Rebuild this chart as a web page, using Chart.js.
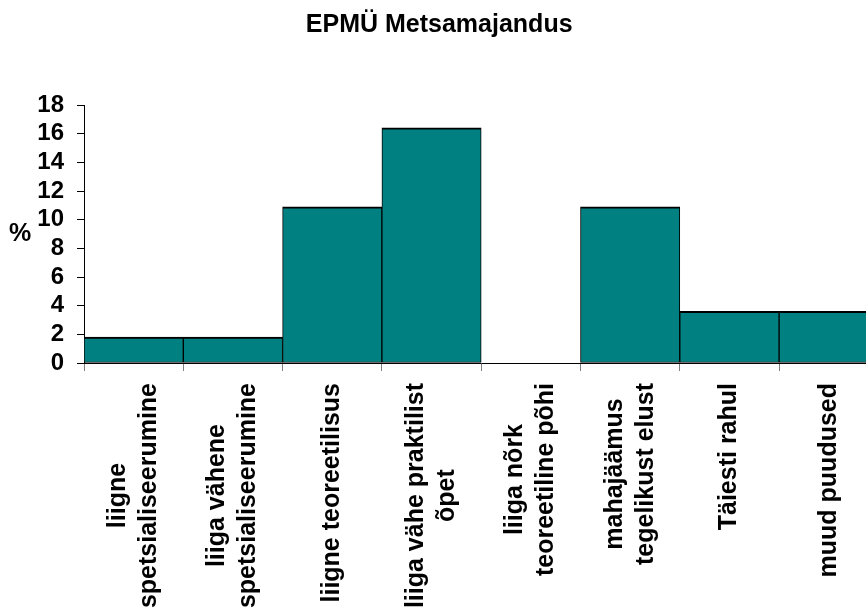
<!DOCTYPE html>
<html>
<head>
<meta charset="utf-8">
<script src="https://cdn.jsdelivr.net/npm/chart.js@4"></script>
<style>
  html, body { margin: 0; padding: 0; background: #fff; overflow: hidden; }
</style>
</head>
<body>
<canvas id="chart" width="880" height="609"></canvas>
<script>
const categories = [
    ['liigne', 'spetsialiseerumine'],
    ['liiga vähene', 'spetsialiseerumine'],
    ['liigne teoreetilisus'],
    ['liiga vähe praktilist', 'õpet'],
    ['liiga nõrk', 'teoreetiline põhi'],
    ['mahajäämus', 'tegelikust elust'],
    ['Täiesti rahul'],
    ['muud puudused']
];
const percentages = [1.8, 1.8, 10.9, 16.4, 0, 10.9, 3.6, 3.6];
const yMin = 0;
const yMax = 18;
const yStep = 2;

const FONT = 'Arial, "Liberation Sans", sans-serif';

// category labels are drawn by hand so the lines can be centred on each other
const labelPlugin = {
    id: 'labels',
    afterDraw(chart) {
        const ctx = chart.ctx;
        const x = chart.scales.x;
        const area = chart.chartArea;
        ctx.save();
        ctx.fillStyle = '#000';
        ctx.font = 'bold 25px ' + FONT;
        ctx.textAlign = 'center';
        ctx.textBaseline = 'middle';

        // y axis title, not rotated
        ctx.fillText('%', 20, (area.top + area.bottom) / 2);

        const lineGap = 31;
        const top = area.bottom + 20;
        categories.forEach(function(lines, i) {
            const cx = x.getPixelForValue(i);
            const w = Math.max.apply(null, lines.map(l => ctx.measureText(l).width));
            lines.forEach(function(line, j) {
                const lx = cx + (j - (lines.length - 1) / 2) * lineGap;
                ctx.save();
                ctx.translate(lx, top + w / 2);
                ctx.rotate(-Math.PI / 2);
                ctx.fillText(line, 0, 0);
                ctx.restore();
            });
        });
        ctx.restore();
    }
};

new Chart(document.getElementById('chart').getContext('2d'), {
    type: 'bar',
    data: {
        labels: categories,
        datasets: [{
            data: percentages,
            backgroundColor: '#008080',
            borderColor: '#000',
            borderWidth: { top: 2, left: 1, right: 1, bottom: 1 },
            borderSkipped: false,
            categoryPercentage: 1,
            barPercentage: 1
        }]
    },
    options: {
        responsive: false,
        animation: false,
        layout: { padding: { left: 0, right: 1.6, top: 0, bottom: 0 } },
        plugins: {
            legend: { display: false },
            tooltip: { enabled: false },
            title: {
                display: true,
                text: 'EPMÜ Metsamajandus',
                color: '#000',
                font: { family: FONT, size: 25, weight: 'bold' },
                padding: { top: 10, bottom: 65 }
            }
        },
        scales: {
            x: {
                grid: { drawOnChartArea: false, tickLength: 8, color: '#808080' },
                border: { color: '#000', width: 1 },
                ticks: { display: false },
                afterFit(scale) { scale.height = 246; }
            },
            y: {
                min: yMin,
                max: yMax,
                grid: { drawOnChartArea: false, tickLength: 7, color: '#000' },
                border: { color: '#000', width: 1 },
                ticks: {
                    stepSize: yStep,
                    autoSkip: false,
                    color: '#000',
                    padding: 13,
                    font: { family: FONT, size: 24, weight: 'bold' }
                },
                afterFit(scale) { scale.width = 84; }
            }
        }
    },
    plugins: [labelPlugin]
});
</script>
</body>
</html>
